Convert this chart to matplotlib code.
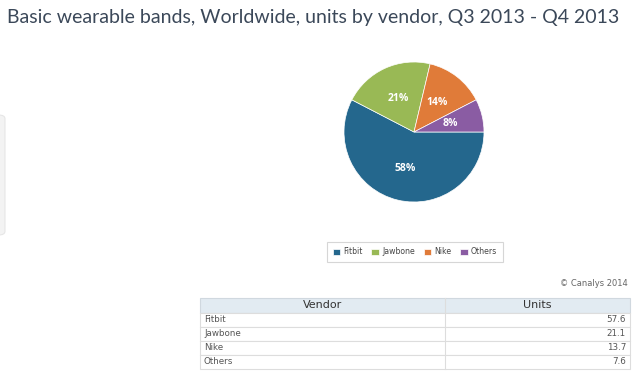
import matplotlib
matplotlib.use("Agg")
import matplotlib.pyplot as plt
from matplotlib.patches import Rectangle, FancyBboxPatch
import numpy as np

vendors = ["Fitbit", "Jawbone", "Nike", "Others"]
units = [57.6, 21.1, 13.7, 7.6]
pct_labels = ["58%", "21%", "14%", "8%"]
colors = ["#24678d", "#99b955", "#e07b39", "#8a5ca3"]
title = "Basic wearable bands, Worldwide, units by vendor, Q3 2013 - Q4 2013"

W, H = 640, 378
fig = plt.figure(figsize=(W / 100, H / 100), dpi=100)
fig.patch.set_facecolor("white")

def fx(x): return x / W
def fy(y): return 1 - y / H

plt.rcParams['font.family'] = ['Lato', 'DejaVu Sans']

fig.text(fx(7), fy(23), title, fontsize=14.0, color="#3b4859", va="baseline", ha="left")

# faint side panel
fig.patches.append(FancyBboxPatch((fx(-10), fy(235)), fx(15), (235 - 115) / H,
                                  boxstyle="round,pad=0,rounding_size=0.01",
                                  transform=fig.transFigure, facecolor="#f3f3f3",
                                  edgecolor="#e6e6e6", lw=0.8))

# pie
cx, cy, r = 414, 132, 70
ax = fig.add_axes([fx(cx - r), fy(cy + r), 2 * r / W, 2 * r / H])
wedges, _ = ax.pie(units, colors=colors, startangle=0, counterclock=False,
                   wedgeprops=dict(edgecolor="white", linewidth=0.5))
ang = 0.0
tot = sum(units)
for u, lab in zip(units, pct_labels):
    a0 = ang
    ang -= u / tot * 360
    mid = np.deg2rad((a0 + ang) / 2)
    ax.text(0.53 * np.cos(mid), 0.53 * np.sin(mid), lab, ha="center", va="center",
            color="white", fontsize=7.5, fontweight="bold", family="Open Sans")
ax.set_aspect("equal")
ax.set_xlim(-1, 1); ax.set_ylim(-1, 1)

# legend
leg = fig.legend(handles=wedges, labels=vendors, loc="center",
                 bbox_to_anchor=(fx(415), fy(252)), ncol=4,
                 prop={"family": "DejaVu Sans", "size": 5.6},
                 frameon=True, fancybox=False, handlelength=1.0, handleheight=0.9,
                 columnspacing=1.1, handletextpad=0.4, borderpad=0.7)
leg.get_frame().set_edgecolor("#cccccc")
leg.get_frame().set_linewidth(0.8)
for t in leg.get_texts():
    t.set_color("#444444")

fig.text(fx(628), fy(284), "© Canalys 2014", fontsize=6, color="#666666",
         ha="right", va="center", family="DejaVu Sans")

# table
tx0, tx1, tmid = 200, 630, 445
ty0 = 298
rh_head = 15
rh = 14
fig.patches.append(Rectangle((fx(tx0), fy(ty0 + rh_head)), (tx1 - tx0) / W, rh_head / H,
                             transform=fig.transFigure, facecolor="#e2ebf2",
                             edgecolor="#d0d8df", lw=0.8))
fig.text(fx((tx0 + tmid) / 2), fy(ty0 + rh_head / 2), "Vendor", fontsize=8,
         color="#333333", ha="center", va="center", family="DejaVu Sans")
fig.text(fx((tmid + tx1) / 2), fy(ty0 + rh_head / 2), "Units", fontsize=8,
         color="#333333", ha="center", va="center", family="DejaVu Sans")
y = ty0 + rh_head
for v, u in zip(vendors, units):
    fig.patches.append(Rectangle((fx(tx0), fy(y + rh)), (tx1 - tx0) / W, rh / H,
                                 transform=fig.transFigure, facecolor="white",
                                 edgecolor="#dddddd", lw=0.8))
    fig.text(fx(tx0 + 4), fy(y + rh / 2), v, fontsize=6.3, color="#555555",
             ha="left", va="center", family="DejaVu Sans")
    fig.text(fx(tx1 - 4), fy(y + rh / 2), f"{u:.1f}", fontsize=6.3, color="#555555",
             ha="right", va="center", family="DejaVu Sans")
    y += rh
fig.lines.append(plt.Line2D([fx(tmid), fx(tmid)], [fy(ty0), fy(y)],
                            transform=fig.transFigure, color="#dddddd", lw=0.8))

fig.savefig("out.png", dpi=100, facecolor="white")
